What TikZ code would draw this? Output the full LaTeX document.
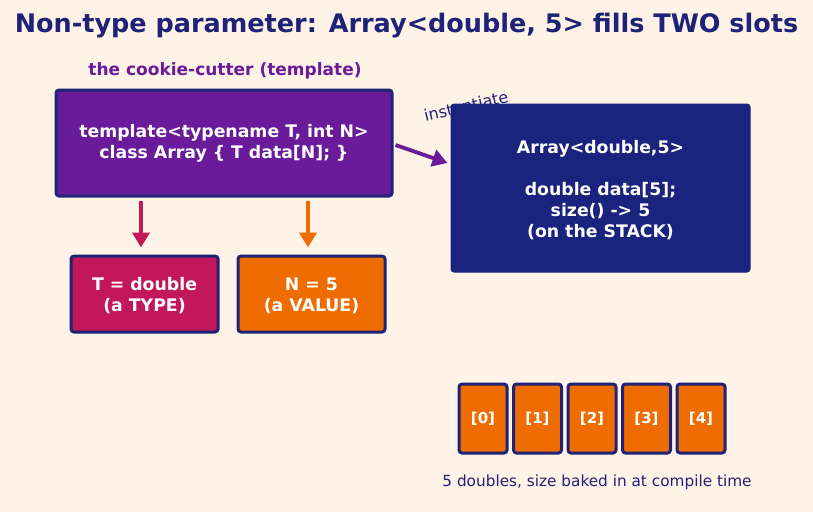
\documentclass[tikz,border=0pt]{standalone}
\usepackage{fontspec}
\setmainfont{DejaVu Sans}
\usetikzlibrary{arrows.meta}
\definecolor{bg}{HTML}{FFF3E8}
\definecolor{navy}{HTML}{1F2377}
\definecolor{boxnavy}{HTML}{1A237E}
\definecolor{purp}{HTML}{6A1B9A}
\definecolor{mag}{HTML}{C2185B}
\definecolor{orng}{HTML}{EF6C00}
\newcommand{\lowstack}[1]{\raisebox{0pt}[\dimexpr\height+6pt\relax][\depth]{\begin{tabular}{@{}c@{}}#1\end{tabular}}}
\begin{document}
\begin{tikzpicture}[x=1pt,y=-1pt,
  box/.style={draw=navy,line width=3pt,rounded corners=3pt,text=white,align=center,font=\bfseries\fontsize{17.3}{21}\selectfont,inner sep=0pt},
  cell/.style={box,fill=orng,minimum width=48pt,minimum height=69pt,font=\bfseries\fontsize{15}{18}\selectfont},
  conn/.style={line width=3.8pt,-{Triangle[length=15pt,width=17pt]}}]
\fill[bg] (0,0) rectangle (813,512);
\useasboundingbox (0,0) rectangle (813,512);
\node[text=navy,font=\bfseries\fontsize{25.5}{30}\selectfont] (title) at (406.5,26) {Non-type parameter: Array<double, 5> fills TWO slots};
\node[text=purp,font=\bfseries\fontsize{17}{20}\selectfont] (lbl) at (225,71) {the cookie-cutter (template)};
\node[box,fill=purp,minimum width=336pt,minimum height=106pt] (tmpl) at (224,143) {template<typename T, int N>\\class Array \{ T data[N]; \}};
\node[text=navy,rotate=13,font=\fontsize{16}{19}\selectfont] (inst) at (466,106) {instantiate};
\node[box,draw=boxnavy,fill=boxnavy,line width=1pt,minimum width=299pt,minimum height=168pt] (arr) at (600.5,188) {\lowstack{Array<double,5>\\[21pt]double data[5];\\size() -> 5\\(on the STACK)}};
\node[box,fill=mag,minimum width=147pt,minimum height=76pt] (tbox) at (144.5,294) {\lowstack{T = double\\(a TYPE)}};
\node[box,fill=orng,minimum width=147pt,minimum height=76pt] (nbox) at (311.5,294) {\lowstack{N = 5\\(a VALUE)}};
\node[cell] (c0) at (483,418.5) {[0]};
\node[cell] (c1) at (537.5,418.5) {[1]};
\node[cell] (c2) at (592,418.5) {[2]};
\node[cell] (c3) at (646.5,418.5) {[3]};
\node[cell] (c4) at (701,418.5) {[4]};
\node[text=navy,font=\fontsize{15.3}{18}\selectfont] (cap) at (597,482) {5 doubles, size baked in at compile time};
\draw[conn,draw=purp] ([xshift=2pt,yshift=-2pt]tmpl.east) -- ([xshift=-3pt,yshift=25pt]arr.west);
\draw[conn,draw=mag] ([xshift=-3.5pt,yshift=-3pt]tmpl.south -| tbox.north) -- ([xshift=-3.5pt,yshift=7pt]tbox.north);
\draw[conn,draw=orng] ([xshift=-3.5pt,yshift=-3pt]tmpl.south -| nbox.north) -- ([xshift=-3.5pt,yshift=7pt]nbox.north);
\end{tikzpicture}
\end{document}
